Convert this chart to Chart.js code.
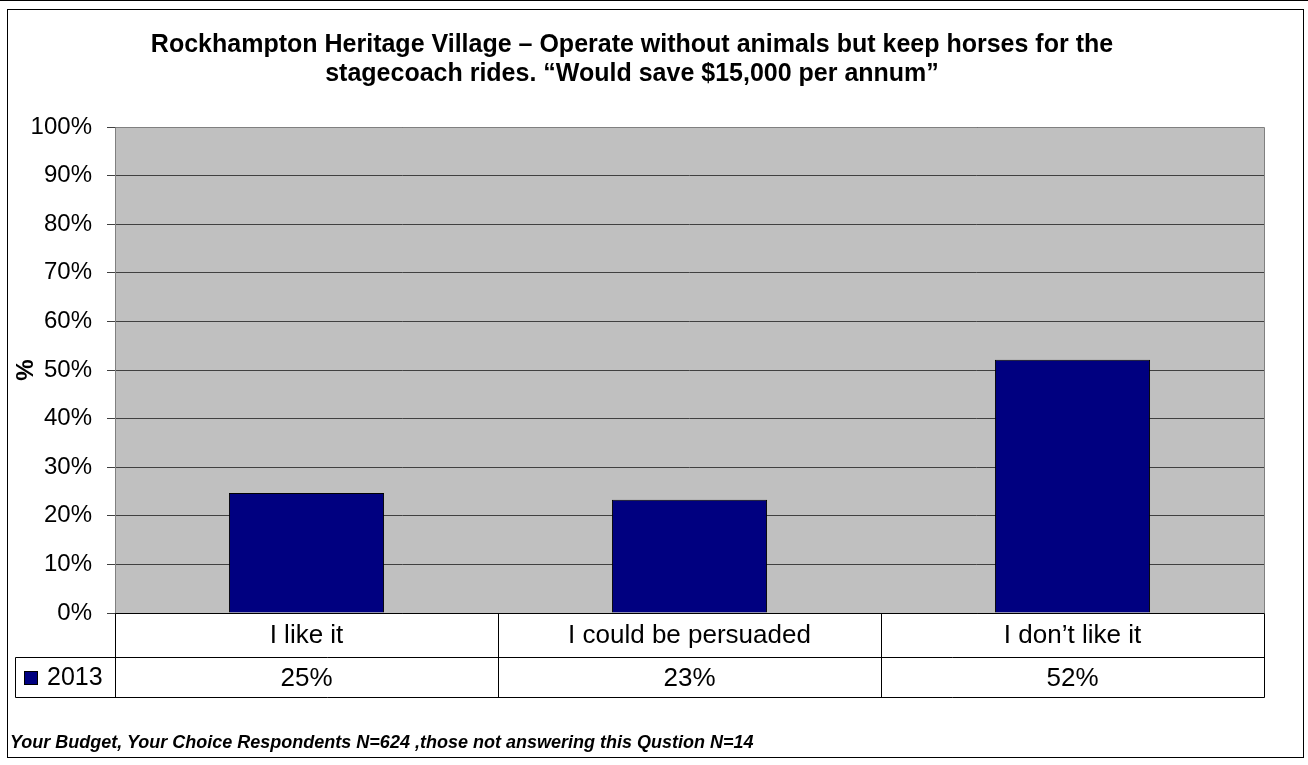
<!DOCTYPE html>
<html>
<head>
<meta charset="utf-8">
<script src="https://cdn.jsdelivr.net/npm/chart.js@4"></script>
<style>
  html, body { margin: 0; padding: 0; background: #fff; }
  #wrap { position: relative; width: 1308px; height: 765px; overflow: hidden; }
  #c { position: absolute; left: 0; top: 0; }
  #frame { position: absolute; left: 7px; top: 9px; width: 1295px; height: 747px; border: 1px solid #000; pointer-events: none; }
  #topline { position: absolute; left: 0; top: 0; width: 1308px; height: 1px; background: #000; }
  #footer { position: absolute; left: 10px; top: 731px; font: italic bold 18px Arial, "Liberation Sans", sans-serif; line-height: 22px; color: #000; white-space: nowrap; }
</style>
</head>
<body>
<div id="wrap">
  <canvas id="c" width="1308" height="765"></canvas>
  <div id="topline"></div>
  <div id="frame"></div>
  <div id="footer">Your Budget, Your Choice Respondents N=624 ,those not answering this Qustion N=14</div>
</div>
<script>
const categories = ["I like it", "I could be persuaded", "I don\u2019t like it"];
const seriesName = "2013";
const values2013 = [24.7, 23.3, 52.1];
const yTicks = [0, 10, 20, 30, 40, 50, 60, 70, 80, 90, 100];
const titleLines = [
  "Rockhampton Heritage Village \u2013 Operate without animals but keep horses for the",
  "stagecoach rides. \u201cWould save $15,000 per annum\u201d"
];

const FONT = 'Arial, "Liberation Sans", sans-serif';
const BAR_COLOR = '#000080';

const tablePlugin = {
  id: 'tablePlugin',
  beforeDraw(chart) {
    const {ctx, chartArea: a} = chart;
    ctx.save();
    ctx.fillStyle = '#fff';
    ctx.fillRect(0, 0, chart.width, chart.height);
    ctx.fillStyle = '#C0C0C0';
    ctx.fillRect(a.left, a.top, a.right - a.left, a.bottom - a.top);
    ctx.restore();
  },
  afterDraw(chart) {
    const {ctx, chartArea: a, scales: {x}} = chart;
    const L = Math.round(a.left) + 0.5, R = Math.round(a.right) + 0.5;
    const T = Math.round(a.top) + 0.5, B = Math.round(a.bottom) + 0.5;
    ctx.save();
    ctx.strokeStyle = '#808080';
    ctx.lineWidth = 1;
    ctx.beginPath();
    ctx.moveTo(L, B); ctx.lineTo(L, T); ctx.lineTo(R, T); ctx.lineTo(R, B);
    ctx.stroke();
    const rowMid = Math.round(x.bottom) - 40 + 0.5;
    const rowBot = Math.round(x.bottom) + 0.5;
    const tableLeft = 15.5;
    ctx.strokeStyle = '#000';
    ctx.beginPath();
    ctx.moveTo(L, B); ctx.lineTo(R, B);
    ctx.moveTo(tableLeft, rowMid); ctx.lineTo(R, rowMid);
    ctx.moveTo(tableLeft, rowBot); ctx.lineTo(R, rowBot);
    ctx.moveTo(tableLeft, rowMid); ctx.lineTo(tableLeft, rowBot);
    const n = categories.length;
    const w = (a.right - a.left) / n;
    for (let i = 0; i <= n; i++) {
      const xx = Math.round(a.left + i * w) + 0.5;
      ctx.moveTo(xx, B); ctx.lineTo(xx, rowBot);
    }
    ctx.stroke();
    const cy = (rowMid + rowBot) / 2;
    ctx.fillStyle = BAR_COLOR;
    ctx.fillRect(24, Math.round(cy) - 7, 14, 14);
    ctx.strokeStyle = '#000';
    ctx.strokeRect(24.5, Math.round(cy) - 6.5, 13, 13);
    ctx.fillStyle = '#000';
    ctx.textBaseline = 'middle';
    ctx.textAlign = 'left';
    ctx.font = '25px ' + FONT;
    ctx.fillText(seriesName, 47, cy + 1);
    ctx.textAlign = 'center';
    ctx.font = '26px ' + FONT;
    values2013.forEach((v, i) => {
      ctx.fillText(Math.round(v) + '%', x.getPixelForValue(i), cy + 1);
    });
    ctx.restore();
  }
};

new Chart(document.getElementById('c'), {
  type: 'bar',
  data: {
    labels: categories,
    datasets: [{
      label: seriesName,
      data: values2013,
      backgroundColor: BAR_COLOR,
      borderColor: '#000',
      borderWidth: 1,
      borderSkipped: 'bottom',
      categoryPercentage: 1.0,
      barPercentage: 0.405
    }]
  },
  options: {
    responsive: false,
    animation: false,
    devicePixelRatio: 1,
    layout: { padding: { left: 0, right: 44, top: 0, bottom: 68 } },
    plugins: {
      legend: { display: false },
      tooltip: { enabled: false },
      title: {
        display: true,
        text: titleLines,
        color: '#000',
        font: { family: FONT, size: 25, weight: 'bold', lineHeight: 1.15 },
        padding: { top: 31, bottom: 38.5 }
      }
    },
    scales: {
      x: {
        grid: { display: false, drawTicks: false, tickLength: 0 },
        border: { display: false },
        ticks: { color: '#000', font: { family: FONT, size: 26 }, padding: 7, maxRotation: 0, autoSkip: false },
        afterFit(s) { s.height = 84; }
      },
      y: {
        min: 0,
        max: 100,
        afterBuildTicks(s) { s.ticks = yTicks.map(v => ({ value: v })); },
        grid: { color: '#404040', lineWidth: 1, tickLength: 8, tickColor: '#404040' },
        border: { display: false },
        ticks: { color: '#000', font: { family: FONT, size: 24 }, padding: 15, callback: v => v + '%' },
        title: { display: true, text: '%', color: '#000', font: { family: FONT, size: 24, weight: 'bold' }, padding: { top: 12, bottom: 0 } },
        afterFit(s) { s.width = 115; }
      }
    }
  },
  plugins: [tablePlugin]
});
</script>
</body>
</html>
